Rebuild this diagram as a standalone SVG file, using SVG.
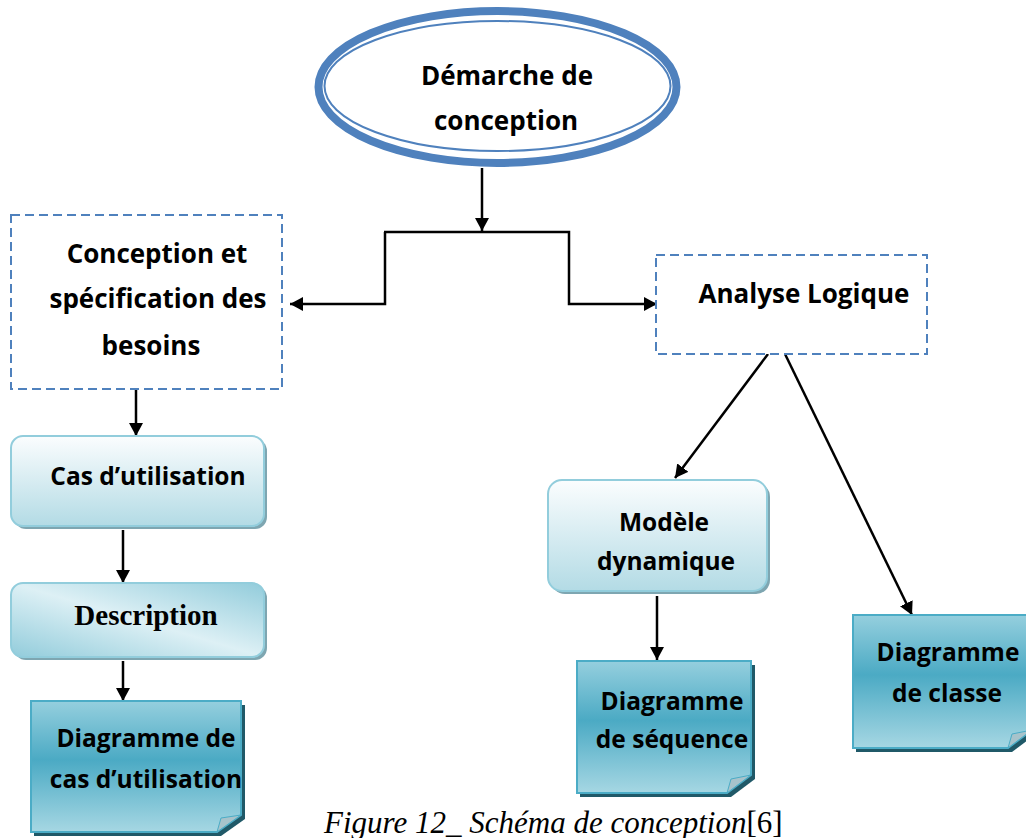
<svg xmlns="http://www.w3.org/2000/svg" width="1026" height="838" viewBox="0 0 1026 838">
  <defs>
    <marker id="arrow" markerUnits="userSpaceOnUse" markerWidth="14" markerHeight="14" refX="13" refY="7" orient="auto">
      <path d="M0,0 L13,7 L0,14 Z" fill="#000"/>
    </marker>
    <linearGradient id="softFill" x1="0" y1="0" x2="0" y2="1">
      <stop offset="0" stop-color="#fbfdfe"/>
      <stop offset="1" stop-color="#b3dbe5"/>
    </linearGradient>
    <linearGradient id="diagFill" x1="0" y1="1" x2="1" y2="0">
      <stop offset="0" stop-color="#92ccdb"/>
      <stop offset="0.5" stop-color="#ddf0f5"/>
      <stop offset="1" stop-color="#92ccdb"/>
    </linearGradient>
    <linearGradient id="noteFill" x1="0" y1="0" x2="0" y2="1">
      <stop offset="0" stop-color="#95cfde"/>
      <stop offset="0.45" stop-color="#4baac4"/>
      <stop offset="1" stop-color="#a6d7e3"/>
    </linearGradient>
    <style>
      .lbl { font-family: "Open Sans", "Liberation Sans", sans-serif; font-weight: bold; font-size: 26px; fill: #000; text-anchor: middle; }
      .sm { font-size: 24.5px; }
      .serif { font-family: "Liberation Serif", serif; font-weight: bold; font-size: 29px; fill: #000; text-anchor: middle; }
      .dashed { fill: #fff; stroke: #4f81bd; stroke-width: 2; stroke-dasharray: 9 5; }
      .soft { stroke: #92cddc; stroke-width: 2; }
      .softShadow { fill: #7ea6b1; }
      .note { fill: url(#noteFill); stroke: #4bacc6; stroke-width: 2; }
      .noteShadow { fill: #205968; }
      .curl { fill: #a7c3cb; stroke: #4bacc6; stroke-width: 1; }
      .wire { fill: none; stroke: #000; stroke-width: 2.5; }
    </style>
  </defs>

  <rect width="1026" height="838" fill="#fff"/>

  <!-- connectors -->
  <g id="connectors">
    <path class="wire" d="M482,168 V231" marker-end="url(#arrow)"/>
    <path class="wire" d="M385,232 V304 H290" marker-end="url(#arrow)"/>
    <path class="wire" d="M384,232 H569 V304 H657" marker-end="url(#arrow)"/>
    <path class="wire" d="M136,389 V436" marker-end="url(#arrow)"/>
    <path class="wire" d="M123,530 V583" marker-end="url(#arrow)"/>
    <path class="wire" d="M123,661 V701" marker-end="url(#arrow)"/>
    <path class="wire" d="M768,354 L675,478" marker-end="url(#arrow)"/>
    <path class="wire" d="M785,354 L912,615" marker-end="url(#arrow)"/>
    <path class="wire" d="M657,596 V660" marker-end="url(#arrow)"/>
  </g>

  <!-- root ellipse -->
  <g id="demarche">
    <ellipse cx="497.5" cy="87" rx="179" ry="76" fill="#fff" stroke="#4f81bd" stroke-width="8"/>
    <ellipse cx="497.5" cy="86" rx="173" ry="65" fill="none" stroke="#4f81bd" stroke-width="2"/>
    <text class="lbl" x="507" y="85">Démarche de</text>
    <text class="lbl" x="506" y="130">conception</text>
  </g>

  <g id="conception">
    <rect class="dashed" x="11" y="215" width="271" height="174"/>
    <text class="lbl" x="157" y="263">Conception et</text>
    <text class="lbl" x="158" y="308">spécification des</text>
    <text class="lbl" x="151" y="355">besoins</text>
  </g>

  <g id="analyse">
    <rect class="dashed" x="656" y="255" width="271" height="99"/>
    <text class="lbl" x="804" y="303">Analyse Logique</text>
  </g>

  <g id="cas">
    <rect class="softShadow" x="14" y="439" width="253" height="90" rx="12"/>
    <rect class="soft" fill="url(#softFill)" x="11" y="436" width="253" height="90" rx="12"/>
    <text class="lbl sm" x="148" y="485">Cas d’utilisation</text>
  </g>

  <g id="description">
    <rect class="softShadow" x="14" y="586" width="253" height="74" rx="12"/>
    <rect class="soft" fill="url(#diagFill)" x="11" y="583" width="253" height="74" rx="12"/>
    <text class="serif" x="146" y="625">Description</text>
  </g>

  <g id="modele">
    <rect class="softShadow" x="551" y="483" width="219" height="111" rx="14"/>
    <rect class="soft" fill="url(#softFill)" x="548" y="480" width="219" height="111" rx="14"/>
    <text class="lbl sm" x="664" y="531">Modèle</text>
    <text class="lbl sm" x="666" y="570">dynamique</text>
  </g>

  <g id="diag-cas">
    <path class="noteShadow" d="M34,705 H245 V819 L221,836 H34 Z"/>
    <path class="note" d="M31,701 H241 V815 L217,832 H31 Z"/>
    <path class="curl" d="M241,815 L217,832 L221,818 Z"/>
    <text class="lbl sm" x="146" y="747">Diagramme de</text>
    <text class="lbl sm" x="146" y="788">cas d’utilisation</text>
  </g>

  <g id="diag-sequence">
    <path class="noteShadow" d="M580,665 H755 V779 L731,797 H580 Z"/>
    <path class="note" d="M577,661 H751 V775 L727,793 H577 Z"/>
    <path class="curl" d="M751,775 L727,793 L731,779 Z"/>
    <text class="lbl sm" x="672" y="710">Diagramme</text>
    <text class="lbl sm" x="672" y="748">de séquence</text>
  </g>

  <g id="diag-classe">
    <path class="noteShadow" d="M856,619 H1036 V734 L1012,752 H856 Z"/>
    <path class="note" d="M853,615 H1032 V730 L1008,748 H853 Z"/>
    <path class="curl" d="M1032,730 L1008,748 L1012,734 Z"/>
    <text class="lbl sm" x="948" y="661">Diagramme</text>
    <text class="lbl sm" x="947" y="702">de classe</text>
  </g>

  <g id="caption">
    <text x="324" y="833" font-family="'Liberation Serif', serif" font-size="31" fill="#000"><tspan font-style="italic">Figure 12_ Schéma de conception</tspan>[6]</text>
  </g>
</svg>
